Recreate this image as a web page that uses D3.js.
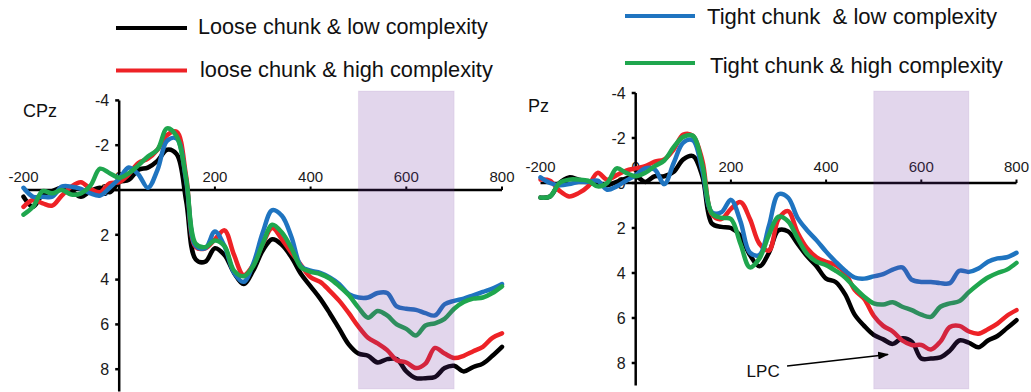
<!DOCTYPE html>
<html>
<head>
<meta charset="utf-8">
<script src="https://cdn.jsdelivr.net/npm/d3@7"></script>
<style>
  html, body { margin: 0; padding: 0; background: #fff; }
  svg { display: block; font-family: "Liberation Sans", Arial, sans-serif; }
</style>
</head>
<body>
<svg id="chart" width="1031" height="392"></svg>
<script>
// ---------------- DATA ----------------
const times = [-200,-180,-160,-140,-120,-100,-80,-60,-40,-20,
  0,20,40,60,80,100,120,140,160,180,
  200,220,240,260,280,300,320,340,360,380,
  400,420,440,460,480,500,520,540,560,580,
  600,620,640,660,680,700,720,740,760,780,800];

const seriesNames = ["Loose chunk & low complexity", "loose chunk & high complexity",
                     "Tight chunk  & low complexity", "Tight chunk & high complexity"];
const seriesColors = ["#000000", "#ee2226", "#1f74c0", "#1fa64e"];

// CPz (µV, negative up)
const cpzLooseLow = [0.3,0.75,0.2,0.05,-0.1,0.05,0.3,0.05,-0.1,0.1,
  -0.35,-0.45,-0.9,-1.0,-1.3,-1.8,-1.6,0.5,3.1,3.2,
  2.6,2.9,3.7,4.2,3.6,2.7,2.2,2.45,3.0,3.75,
  4.3,4.85,5.5,6.2,6.9,7.3,7.4,7.7,7.55,7.55,
  8.1,8.4,8.4,8.35,7.95,7.85,8.1,7.9,7.75,7.4,7.0];
const cpzLooseHigh = [0.75,0.45,0.6,0.7,0.25,-0.15,-0.35,-0.05,0.1,-0.3,
  -0.35,-0.7,-1.2,-1.4,-1.8,-2.45,-2.6,-0.6,2.55,2.6,
  2.2,1.8,2.9,3.8,3.35,2.4,1.7,2.2,2.8,3.35,
  3.9,4.1,4.5,4.95,5.5,6.1,6.6,6.85,7.15,7.6,
  7.7,7.95,7.75,7.05,7.3,7.5,7.4,7.2,7.0,6.6,6.4];
const cpzTightLow = [-0.1,0.3,0.3,0.3,-0.15,-0.15,-0.05,0.15,0.25,-0.1,
  -0.5,-1.0,-0.7,-0.1,-0.9,-2.2,-2.3,-0.4,2.5,2.6,
  1.85,2.5,3.7,4.1,3.3,1.9,0.9,1.15,2.1,3.4,
  3.6,3.7,3.9,4.2,4.65,4.8,4.8,4.6,4.6,5.2,
  5.3,5.35,5.5,5.6,5.1,4.95,4.85,4.7,4.55,4.4,4.2];
const cpzTightHigh = [1.1,0.75,0.05,0.15,0.0,0.2,0.15,-0.2,-0.95,-0.75,
  -0.55,-0.75,-1.1,-1.5,-1.8,-2.75,-2.4,-0.5,2.4,2.55,
  2.25,2.5,3.6,3.85,3.4,2.4,1.55,1.9,2.6,3.45,
  3.65,3.75,3.95,4.3,4.7,5.25,5.7,5.4,5.6,6.0,
  6.2,6.5,6.05,5.95,5.75,5.3,5.0,4.85,4.8,4.6,4.3];

// Pz
const pzLooseLow = [0.65,0.6,0.0,-0.25,-0.15,-0.05,0.1,0.1,-0.05,-0.2,
  -0.3,-0.05,-0.3,-0.3,-0.5,-1.05,-1.2,-0.3,1.8,1.95,
  2.0,2.35,3.2,3.7,3.1,2.1,2.15,2.7,3.25,3.7,
  4.25,4.4,4.95,5.85,6.35,6.75,6.95,7.15,6.9,7.05,
  7.8,7.8,7.75,7.45,7.0,7.1,7.3,7.0,6.8,6.45,6.1];
const pzLooseHigh = [-0.15,-0.1,0.35,0.6,0.45,0.15,-0.45,-0.15,-0.35,-0.55,
  -0.65,-0.75,-0.95,-1.05,-1.5,-2.15,-2.1,-1.0,1.4,1.6,
  1.15,0.85,1.6,2.7,3.0,1.6,1.25,2.2,2.9,3.3,
  3.5,3.65,4.0,4.75,5.15,5.9,6.35,6.6,7.0,7.2,
  7.2,7.4,7.05,6.4,6.35,6.6,6.7,6.5,6.25,5.9,5.65];
const pzTightLow = [-0.25,0.0,0.1,0.05,-0.05,-0.05,-0.1,0.3,0.15,-0.1,
  -0.35,-0.65,-0.6,0.05,-0.9,-1.8,-1.9,-0.55,1.3,1.3,
  0.75,1.7,3.1,3.2,1.9,0.5,0.65,1.55,2.1,2.55,
  3.05,3.5,3.9,4.2,4.25,4.15,4.05,3.85,3.75,4.3,
  4.4,4.4,4.45,4.45,3.9,3.95,3.8,3.5,3.35,3.3,3.1];
const pzTightHigh = [0.65,0.6,0.0,-0.15,-0.15,-0.1,0.15,0.0,-0.65,-0.45,
  -0.3,-0.45,-0.75,-1.0,-1.6,-2.05,-2.1,-0.8,1.35,1.55,
  1.6,2.7,3.75,3.35,2.3,1.5,1.7,2.45,3.15,3.5,
  3.65,3.9,4.2,4.65,5.05,5.35,5.4,5.3,5.5,5.65,
  5.85,5.95,5.5,5.35,5.25,4.85,4.5,4.2,4.0,3.85,3.55];

const xTicks = [-200, 0, 200, 400, 600, 800];
const yTicks = [-4, -2, 0, 2, 4, 6, 8];
const yDomain = [-4, 9];
const xDomain = [-200, 800];
const windowMs = [500, 700];
const panelLabels = ["CPz", "Pz"];
const lpcNote = { label: "LPC", labelT: 233, labelV: 8.6, fromT: 318, fromV: 8.13, toT: 530, toV: 7.62 };

// ---------------- LAYOUT ----------------
const svg = d3.select("#chart");
const panels = [
  { label: panelLabels[0], data: [cpzLooseLow, cpzLooseHigh, cpzTightLow, cpzTightHigh],
    xr: [23.5, 502], yr: [100.4, 391.6], xLabOff: 8, labelPos: [23, 117] },
  { label: panelLabels[1], data: [pzLooseLow, pzLooseHigh, pzTightLow, pzTightHigh],
    xr: [540.5, 1016.5], yr: [93, 385.5], xLabOff: 11, labelPos: [528, 112], note: lpcNote }
];

const defs = svg.append("defs");
defs.append("marker").attr("id", "arrow").attr("viewBox", "0 0 10 10")
  .attr("refX", 9).attr("refY", 5).attr("markerWidth", 11).attr("markerHeight", 8)
  .attr("markerUnits", "userSpaceOnUse").attr("orient", "auto")
  .attr("preserveAspectRatio", "none")
  .append("path").attr("d", "M0,0 L10,5 L0,10 Z").attr("fill", "#000");

panels.forEach(p => {
  const x = d3.scaleLinear().domain(xDomain).range(p.xr);
  const y = d3.scaleLinear().domain(yDomain).range(p.yr);
  const g = svg.append("g");
  const y0 = y(0), x0 = x(0);

  // x axis line + ticks
  g.append("line").attr("x1", x(xDomain[0])).attr("x2", x(xDomain[1]))
    .attr("y1", y0).attr("y2", y0).attr("stroke", "#000").attr("stroke-width", 2.5);
  g.selectAll(".xt").data(xTicks.filter(d => d !== 0 && d !== -200)).enter().append("line")
    .attr("x1", d => x(d)).attr("x2", d => x(d)).attr("y1", y0).attr("y2", y0 - 3.5)
    .attr("stroke", "#000").attr("stroke-width", 2);
  g.selectAll(".xl").data(xTicks).enter().append("text")
    .attr("x", d => x(d)).attr("y", y0 - p.xLabOff)
    .attr("text-anchor", "middle").attr("font-size", 15).attr("fill", "#1a1a1a")
    .text(d => d);

  // y axis line + ticks
  g.append("line").attr("x1", x0).attr("x2", x0)
    .attr("y1", y(yDomain[0])).attr("y2", y(yDomain[1]))
    .attr("stroke", "#000").attr("stroke-width", 2.5);
  g.selectAll(".yt").data(yTicks).enter().append("line")
    .attr("x1", x0).attr("x2", x0 - 4).attr("y1", d => y(d)).attr("y2", d => y(d))
    .attr("stroke", "#000").attr("stroke-width", 2.5);
  g.selectAll(".yl").data(yTicks).enter().append("text")
    .attr("x", x0 - 10).attr("y", d => y(d)).attr("dy", "0.36em")
    .attr("text-anchor", "end").attr("font-size", 16).attr("fill", "#1a1a1a")
    .text(d => d);

  // panel label
  g.append("text").attr("x", p.labelPos[0]).attr("y", p.labelPos[1])
    .attr("font-size", 18).attr("fill", "#111").text(p.label);

  // curves
  const line = d3.line().x((d, i) => x(times[i])).y(d => y(d))
    .curve(d3.curveCatmullRom.alpha(0.5));
  p.data.forEach((vals, k) => {
    g.append("path").datum(vals).attr("d", line).attr("fill", "none")
      .attr("stroke", seriesColors[k]).attr("stroke-width", 4.5)
      .attr("stroke-linejoin", "round").attr("stroke-linecap", "round");
  });

  // LPC window (translucent overlay)
  g.append("rect").attr("x", x(windowMs[0])).attr("width", x(windowMs[1]) - x(windowMs[0]))
    .attr("y", 91).attr("height", 298)
    .attr("fill", "#7030a0").attr("fill-opacity", 0.2)
    .attr("stroke", "#7030a0").attr("stroke-opacity", 0.08).attr("stroke-width", 1);

  if (p.note) {
    const n = p.note;
    g.append("text").attr("x", x(n.labelT)).attr("y", y(n.labelV))
      .attr("font-size", 17).attr("fill", "#111").text(n.label);
    g.append("line").attr("x1", x(n.fromT)).attr("y1", y(n.fromV))
      .attr("x2", x(n.toT)).attr("y2", y(n.toV))
      .attr("stroke", "#000").attr("stroke-width", 1.6).attr("marker-end", "url(#arrow)");
  }
});

// ---------------- LEGEND ----------------
const legendItems = [
  { k: 0, lx: [116, 187], ly: 28, tx: 198, ty: 33.5, w: 290 },
  { k: 1, lx: [116, 187], ly: 70.5, tx: 200, ty: 77, w: 293 },
  { k: 2, lx: [625, 695], ly: 16, tx: 707, ty: 24, w: 290 },
  { k: 3, lx: [625, 695], ly: 63, tx: 710, ty: 72.5, w: 293 }
];
const lg = svg.append("g");
legendItems.forEach(it => {
  lg.append("line").attr("x1", it.lx[0]).attr("x2", it.lx[1]).attr("y1", it.ly).attr("y2", it.ly)
    .attr("stroke", seriesColors[it.k]).attr("stroke-width", 4);
  const t = lg.append("text").attr("x", it.tx).attr("y", it.ty)
    .attr("font-size", 20).attr("fill", "#111").style("white-space", "pre")
    .text(seriesNames[it.k]);
  const len = t.node().getComputedTextLength();
  if (len > 0) t.attr("font-size", (20 * it.w / len).toFixed(2));
});
</script>
</body>
</html>
